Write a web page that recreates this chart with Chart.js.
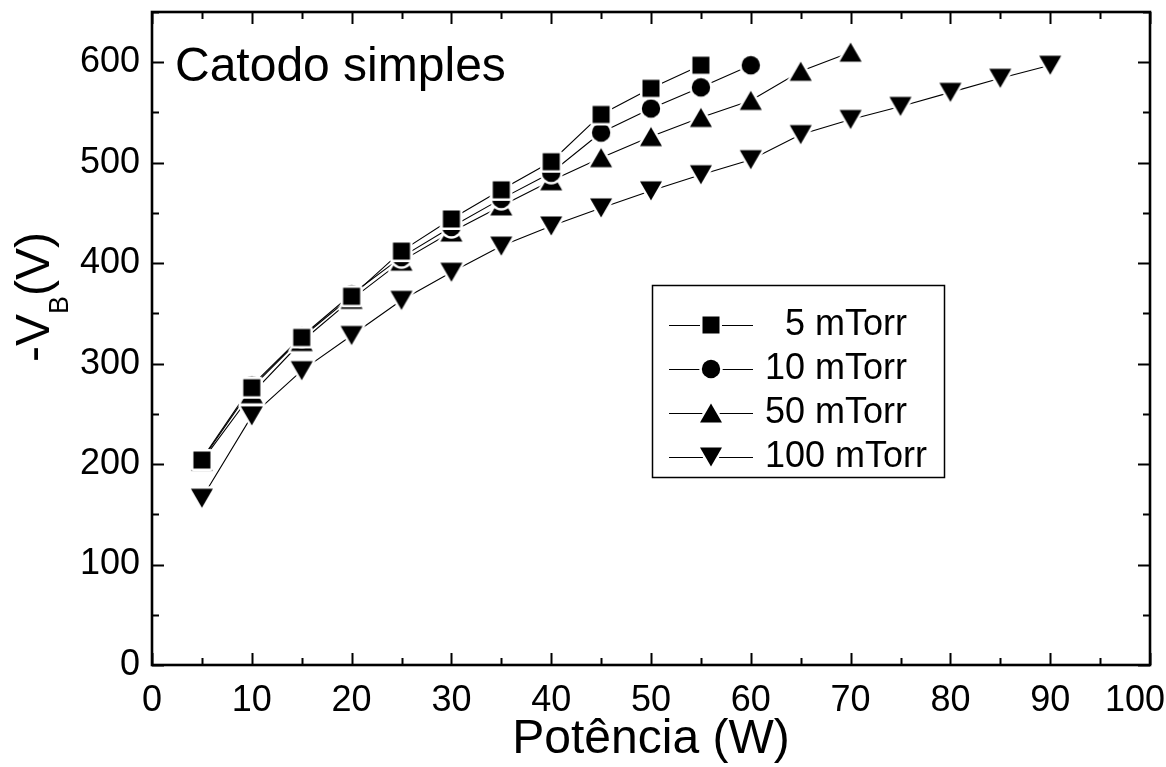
<!DOCTYPE html>
<html>
<head>
<meta charset="utf-8">
<script src="https://cdn.jsdelivr.net/npm/chart.js@4/dist/chart.umd.min.js"></script>
<style>
  html, body { margin: 0; padding: 0; background: #fff; }
  #c { display: block; }
</style>
</head>
<body>
<canvas id="c" width="1166" height="767"></canvas>
<script>
// breakdown voltage vs. power, one series per pressure
const power = [5, 10, 15, 20, 25, 30, 35, 40, 45, 50, 55, 60, 65, 70, 75, 80, 85, 90];
const vb5 = [204, 276, 326, 367, 412, 444, 473, 501, 548, 574, 597];
const vb10 = [205, 278, 327, 369, 406, 436, 464, 490, 530, 554, 575, 597];
const vb50 = [203, 270, 322, 364, 402, 431, 457, 482, 505, 526, 545, 562, 591, 610];
const vb100 = [166, 248, 293, 328, 363, 391, 417, 437, 455, 472, 488, 503, 528, 543, 556, 570, 584, 597];
const labels = ['  5 mTorr', '10 mTorr', '50 mTorr', '100 mTorr'];
const shapes = ['square', 'circle', 'up', 'down'];
const series = [vb5, vb10, vb50, vb100];

const FONT = "'Liberation Sans', Arial, Helvetica, sans-serif";
Chart.defaults.font.family = FONT;
Chart.defaults.color = '#000';

// filled marker with a white halo, so lines stop short of it like in Origin
function makeMarker(shape) {
  const c = document.createElement('canvas');
  c.width = c.height = 34;
  const g = c.getContext('2d');
  g.translate(17, 17);
  g.beginPath();
  if (shape === 'square') g.rect(-8.5, -8.5, 17, 17);
  else if (shape === 'circle') g.arc(0, 0, 9.2, 0, Math.PI * 2);
  else {
    const s = shape === 'up' ? 1 : -1;
    g.moveTo(0, -9.5 * s);
    g.lineTo(11, 9.5 * s);
    g.lineTo(-11, 9.5 * s);
    g.closePath();
  }
  g.lineJoin = 'round';
  g.lineWidth = 5;
  g.strokeStyle = '#fff';
  g.stroke();
  g.fillStyle = '#000';
  g.fill();
  return c;
}
const markers = shapes.map(makeMarker);

const toPoints = (vals) => vals.map((v, i) => ({ x: power[i], y: v }));

// lines first (order 1), markers on top (order 0)
const datasets = [];
series.forEach((vals, i) => {
  datasets.push({
    label: labels[i] + ' line', data: toPoints(vals), order: 1,
    borderColor: '#000', borderWidth: 1.1, pointRadius: 0, tension: 0,
  });
});
series.forEach((vals, i) => {
  datasets.push({
    label: labels[i], data: toPoints(vals), order: 0, showLine: false,
    pointStyle: markers[i], pointRadius: 10, pointHoverRadius: 10,
  });
});

// box frame with inward ticks on all four sides
const frame = {
  id: 'frame',
  afterDatasetsDraw(chart) {
    const { ctx, chartArea: a, scales: { x, y } } = chart;
    ctx.save();
    ctx.strokeStyle = '#000';
    ctx.lineWidth = 2;
    ctx.beginPath();
    for (let v = 0; v <= 100; v += 5) {
      const px = Math.round(x.getPixelForValue(v)) + 0.5, len = v % 10 ? 7 : 12;
      ctx.moveTo(px, a.bottom); ctx.lineTo(px, a.bottom - len);
      ctx.moveTo(px, a.top); ctx.lineTo(px, a.top + len);
    }
    for (let v = 0; v <= 650; v += 50) {
      const py = Math.round(y.getPixelForValue(v)) + 0.5, len = v % 100 ? 7 : 12;
      ctx.moveTo(a.left, py); ctx.lineTo(a.left + len, py);
      ctx.moveTo(a.right, py); ctx.lineTo(a.right - len, py);
    }
    ctx.stroke();
    ctx.lineWidth = 2.6;
    ctx.strokeRect(a.left, a.top, a.right - a.left, a.bottom - a.top);
    ctx.restore();
  },
};

// legend box, title text and the y-axis label with its subscript
const extras = {
  id: 'extras',
  afterDraw(chart) {
    const { ctx } = chart;
    ctx.save();
    ctx.fillStyle = '#000';
    ctx.strokeStyle = '#000';

    ctx.font = '48px ' + FONT;
    ctx.textBaseline = 'alphabetic';
    ctx.fillText('Catodo simples', 175, 81);

    ctx.lineWidth = 1.5;
    ctx.strokeRect(652.5, 285.5, 292, 192);
    const rows = [325, 369, 413, 457];
    ctx.font = '36px ' + FONT;
    ctx.textBaseline = 'middle';
    rows.forEach((ry, i) => {
      ctx.lineWidth = 1.1;
      ctx.beginPath();
      ctx.moveTo(669, ry + 0.5); ctx.lineTo(753, ry + 0.5);
      ctx.stroke();
      ctx.drawImage(markers[i], 711 - 17, ry - 17);
      ctx.fillText(labels[i], 765, ry);
    });

    ctx.translate(49, 362);
    ctx.rotate(-Math.PI / 2);
    ctx.textBaseline = 'alphabetic';
    let cx = 0;
    ctx.font = '48px ' + FONT;
    ctx.fillText('-V', cx, 0);
    cx += ctx.measureText('-V').width;
    ctx.font = '27px ' + FONT;
    ctx.fillText('B', cx, 19);
    cx += ctx.measureText('B').width;
    ctx.font = '48px ' + FONT;
    ctx.fillText('(V)', cx, 0);
    ctx.restore();
  },
};

new Chart(document.getElementById('c'), {
  type: 'line',
  data: { datasets },
  options: {
    responsive: false,
    animation: false,
    layout: { padding: { top: 12, right: 16, left: 0, bottom: 0 } },
    plugins: { legend: { display: false }, tooltip: { enabled: false } },
    scales: {
      x: {
        type: 'linear', min: 0, max: 100,
        afterFit: (s) => { s.height = 102; s.paddingLeft = 0; s.paddingRight = 0; },
        grid: { display: false, drawTicks: false },
        border: { display: false },
        ticks: {
          stepSize: 10, padding: 14, maxRotation: 0, font: { size: 36 }, color: '#000',
          // last label sits a little left of its tick so it stays inside the page
          callback: (v) => (v === 100 ? '100   ' : String(v)),
        },
        title: {
          display: true, text: 'Potência (W)', color: '#000',
          font: { size: 48, lineHeight: 1 }, padding: { top: 0, bottom: 3 },
        },
      },
      y: {
        type: 'linear', min: 0, max: 650,
        afterFit: (s) => { s.width = 152; s.paddingTop = 0; s.paddingBottom = 0; },
        grid: { display: false, drawTicks: false },
        border: { display: false },
        ticks: { stepSize: 100, includeBounds: false, padding: 12, font: { size: 36 }, color: '#000' },
      },
    },
  },
  plugins: [frame, extras],
});
</script>
</body>
</html>
